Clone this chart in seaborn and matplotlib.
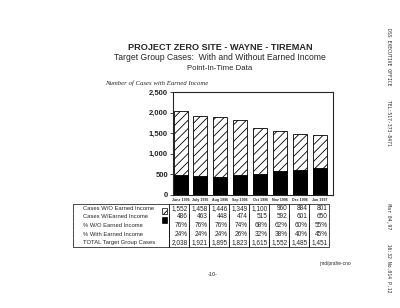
import matplotlib
matplotlib.use("Agg")
import matplotlib.pyplot as plt
import numpy as np
import seaborn as sns
from matplotlib.patches import Rectangle

# data
months = ['June 1996', 'July 1996', 'Aug 1996', 'Sep 1996',
          'Oct 1996', 'Nov 1996', 'Dec 1996', 'Jan 1997']
without_earned = [1552, 1458, 1446, 1349, 1100, 960, 884, 801]
with_earned = [486, 463, 448, 474, 515, 592, 601, 650]
pct_without = ['76%', '76%', '76%', '74%', '68%', '62%', '60%', '55%']
pct_with = ['24%', '24%', '24%', '26%', '32%', '38%', '40%', '45%']
totals = [2038, 1921, 1895, 1823, 1615, 1552, 1485, 1451]
row_names = ['Cases W/O Earned Income', 'Cases W/Earned Income',
             '% W/O Earned Income', '% With Earned Income',
             'TOTAL Target Group Cases']
yticks = [0, 500, 1000, 1500, 2000, 2500]

sns.set_style("ticks")
plt.rcParams['font.family'] = ['Liberation Sans', 'DejaVu Sans']
plt.rcParams['hatch.linewidth'] = 0.6

fig = plt.figure(figsize=(4, 3.08), dpi=100)
ax = fig.add_axes([0.4325, 0.3669, 0.40, 0.3344])

sns.barplot(x=months, y=totals, color='white', edgecolor='black',
            hatch='////', linewidth=0.6, width=0.7, ax=ax)
sns.barplot(x=months, y=with_earned, color='black', edgecolor='black',
            linewidth=0.6, width=0.7, ax=ax)

ax.set_xlim(-0.38, 7.66)
ax.set_ylim(0, 2500)
ax.set_yticks(yticks)
ax.set_yticklabels([f'{v:,}' for v in yticks], fontsize=5.5, fontweight='bold')
ax.tick_params(axis='y', length=2.5, width=0.6, pad=1)
ax.tick_params(axis='x', length=0, pad=2)
ax.set_xticks(range(len(months)))
ax.set_xticklabels(months, fontsize=2.6, fontweight='bold')
ax.set_xlabel('')
ax.set_ylabel('')
for s in ax.spines.values():
    s.set_linewidth(0.8)

# table under the chart
cells = []
cells.append([row_names[0]] + [f'{v:,}' for v in without_earned])
cells.append([row_names[1]] + [f'{v:,}' for v in with_earned])
cells.append([row_names[2]] + pct_without)
cells.append([row_names[3]] + pct_with)
cells.append([row_names[4]] + [f'{v:,}' for v in totals])

tbl = ax.table(cellText=cells, cellLoc='right',
               colWidths=[96 / 160] + [20 / 160] * 8,
               bbox=[-0.625, -0.505, 1.6, 0.418])
tbl.auto_set_font_size(False)
tbl.set_fontsize(4.7)
for (r, c), cell in tbl.get_celld().items():
    cell.set_linewidth(0.5)
    if r == 0:
        cell.visible_edges = 'LRT'
    elif r == 4:
        cell.visible_edges = 'LRB'
    else:
        cell.visible_edges = 'LR'
    if c == 0:
        cell._loc = 'left'
        cell.get_text().set_ha('left')
        cell.get_text().set_fontsize(4.2)
        cell.PAD = 0.1
    else:
        cell.PAD = 0.06

# legend swatches in label column
fig.patches.append(Rectangle((162 / 400, 1 - 214 / 308), 5 / 400, 6 / 308,
                             transform=fig.transFigure, facecolor='white',
                             edgecolor='black', hatch='///', linewidth=0.5))
fig.patches.append(Rectangle((162 / 400, 1 - 223 / 308), 5 / 400, 6 / 308,
                             transform=fig.transFigure, facecolor='black',
                             edgecolor='black', linewidth=0.5))

# titles
fig.text(0.55, 1 - 47 / 308, 'PROJECT ZERO SITE - WAYNE - TIREMAN',
         ha='center', va='center', fontsize=6.6, fontweight='bold')
fig.text(0.55, 1 - 58 / 308, 'Target Group Cases:  With and Without Earned Income',
         ha='center', va='center', fontsize=6.2)
fig.text(0.55, 1 - 69 / 308, 'Point-In-Time Data',
         ha='center', va='center', fontsize=5.6)
fig.text(105 / 400, 1 - 83 / 308, 'Number of Cases with Earned Income',
         ha='left', va='center', fontsize=4.9, style='italic',
         family=['Liberation Serif', 'DejaVu Serif'])

# page footer
fig.text(213 / 400, 1 - 275 / 308, '-10-', ha='center', va='center', fontsize=4)
fig.text(335 / 400, 1 - 263 / 308, 'jmd/prahe-cno', ha='center', va='center',
         fontsize=3.5)

# fax header along right edge
fig.text(388 / 400, 1 - 160 / 308,
         'DSS EXECUTIVE OFFICE     TEL:517-373-8471' + ' ' * 20 +
         'Mar 04,97     16:32 No.014 P.12',
         ha='center', va='center', rotation=-90, fontsize=3.4,
         family=['DejaVu Sans Mono'])

fig.savefig('out.png', dpi=100, facecolor='white')
